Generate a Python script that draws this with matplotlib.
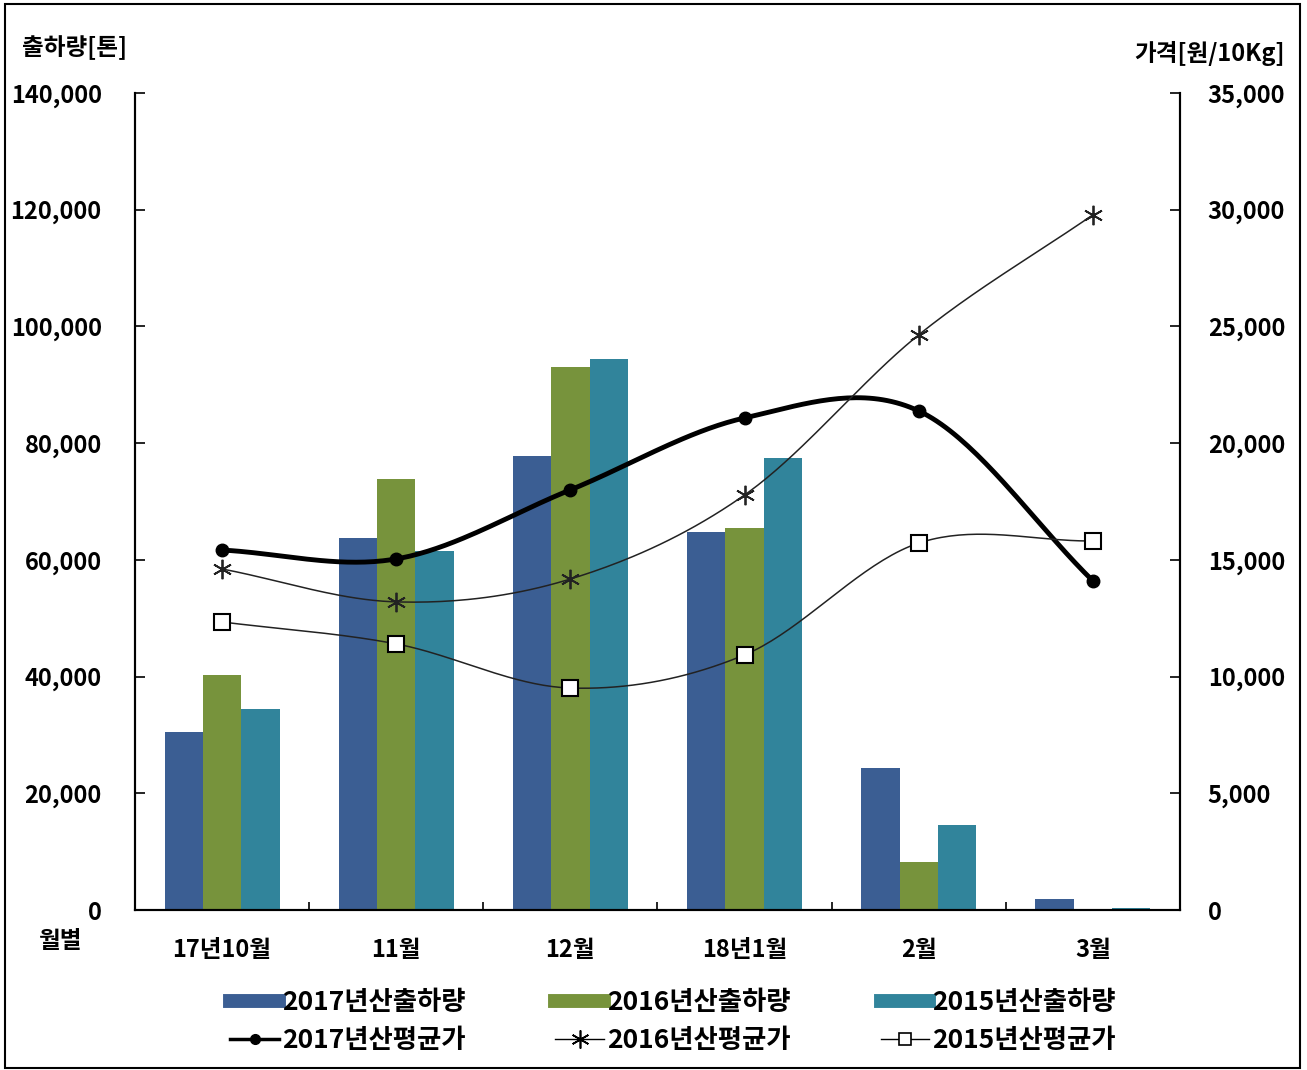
import numpy as np
import matplotlib
matplotlib.use("Agg")
import matplotlib.pyplot as plt
from matplotlib.lines import Line2D
from matplotlib.patches import Rectangle
from matplotlib.ticker import FuncFormatter

plt.rcParams['font.family'] = ['Noto Sans CJK KR', 'DejaVu Sans']
plt.rcParams['font.weight'] = 'bold'

months = ['17년10월', '11월', '12월', '18년1월', '2월', '3월']
ship_2017 = [30500, 63800, 77800, 64800, 24300, 1900]
ship_2016 = [40300, 73900, 93100, 65500, 8200, 0]
ship_2015 = [34400, 61500, 94400, 77500, 14600, 300]
price_2017 = [15420, 15040, 18000, 21080, 21380, 14100]
price_2016 = [14610, 13200, 14180, 17780, 24640, 29780]
price_2015 = [12340, 11400, 9510, 10930, 15720, 15810]

c17 = '#3B5E93'
c16 = '#77933C'
c15 = '#31849B'


def smooth(xs, ys, n=40):
    # Catmull-Rom curve through the points, like a smoothed office chart line
    xs = np.asarray(xs, float)
    ys = np.asarray(ys, float)
    px = np.concatenate([[2 * xs[0] - xs[1]], xs, [2 * xs[-1] - xs[-2]]])
    py = np.concatenate([[2 * ys[0] - ys[1]], ys, [2 * ys[-1] - ys[-2]]])
    ox, oy = [], []
    t = np.linspace(0, 1, n)
    for i in range(1, len(px) - 2):
        for p, o in ((px, ox), (py, oy)):
            p0, p1, p2, p3 = p[i - 1], p[i], p[i + 1], p[i + 2]
            o.extend(0.5 * ((2 * p1) + (-p0 + p2) * t
                            + (2 * p0 - 5 * p1 + 4 * p2 - p3) * t ** 2
                            + (-p0 + 3 * p1 - 3 * p2 + p3) * t ** 3))
    return ox, oy


fig = plt.figure(figsize=(13.07, 10.70), dpi=100)
ax = fig.add_axes([0.1033, 0.1495, 0.7995, 0.7636])
ax2 = ax.twinx()

x = np.arange(len(months))
w = 0.22
ax.bar(x - w, ship_2017, w, color=c17, zorder=2)
ax.bar(x, ship_2016, w, color=c16, zorder=2)
ax.bar(x + w, ship_2015, w, color=c15, zorder=2)

ax.set_xlim(-0.5, 5.5)
ax.set_ylim(0, 140000)
ax2.set_ylim(0, 35000)
ax.set_yticks(np.arange(0, 140001, 20000))
ax2.set_yticks(np.arange(0, 35001, 5000))
fmt = FuncFormatter(lambda v, p: f'{int(v):,}')
ax.yaxis.set_major_formatter(fmt)
ax2.yaxis.set_major_formatter(fmt)

ax.set_xticks(x)
ax.set_xticklabels(months)
ax.set_xticks(np.arange(-0.5, 5.6, 1), minor=True)
ax.tick_params(axis='x', which='major', length=0, pad=20, labelsize=17)
ax.tick_params(axis='x', which='minor', direction='in', length=6, width=1.2)
ax.tick_params(axis='y', direction='in', length=7, width=1.2, pad=24, labelsize=17)
ax2.tick_params(axis='y', direction='in', length=7, width=1.2, pad=20, labelsize=17)

for a in (ax, ax2):
    a.spines['top'].set_visible(False)
    for s in ('left', 'right', 'bottom'):
        a.spines[s].set_linewidth(1.5)

sx, sy = smooth(x, price_2017)
ax2.plot(sx, sy, color='black', lw=3.5, zorder=5)
ax2.plot(x, price_2017, ls='', marker='o', ms=9, color='black', zorder=6)
sx, sy = smooth(x, price_2016)
ax2.plot(sx, sy, color='#222222', lw=1.1, zorder=5)
ax2.plot(x, price_2016, ls='', marker=(6, 2, 0), ms=14, mew=1.3, color='#222222', zorder=6)
sx, sy = smooth(x, price_2015)
ax2.plot(sx, sy, color='#222222', lw=1.1, zorder=5)
ax2.plot(x, price_2015, ls='', marker='s', ms=11, mfc='white', mec='black', mew=1.5, zorder=6)

fig.text(0.017, 0.955, '출하량[톤]', fontsize=17, ha='left', va='center')
fig.text(0.983, 0.950, '가격[원/10Kg]', fontsize=17, ha='right', va='center')
fig.text(0.029, 0.121, '월별', fontsize=17, ha='left', va='center')

handles = [
    Line2D([], [], color=c17, lw=10),
    Line2D([], [], color='black', lw=2.5, marker='o', ms=7),
    Line2D([], [], color=c16, lw=10),
    Line2D([], [], color='black', lw=1, marker=(6, 2, 0), ms=13, mew=1.2),
    Line2D([], [], color=c15, lw=10),
    Line2D([], [], color='black', lw=1, marker='s', ms=9, mfc='white', mec='black', mew=1.2),
]
labels = ['2017년산출하량', '2017년산평균가', '2016년산출하량',
          '2016년산평균가', '2015년산출하량', '2015년산평균가']
fig.legend(handles, labels, ncol=3, loc='center', bbox_to_anchor=(0.515, 0.045),
           frameon=False, fontsize=19, handlelength=1.85, handletextpad=0.12,
           columnspacing=3.4, labelspacing=0.42)

fig.patches.append(Rectangle((0.004, 0.002), 0.991, 0.994, transform=fig.transFigure,
                             fill=False, lw=1.5, edgecolor='black'))

fig.savefig('out.png', dpi=100, facecolor='white')
